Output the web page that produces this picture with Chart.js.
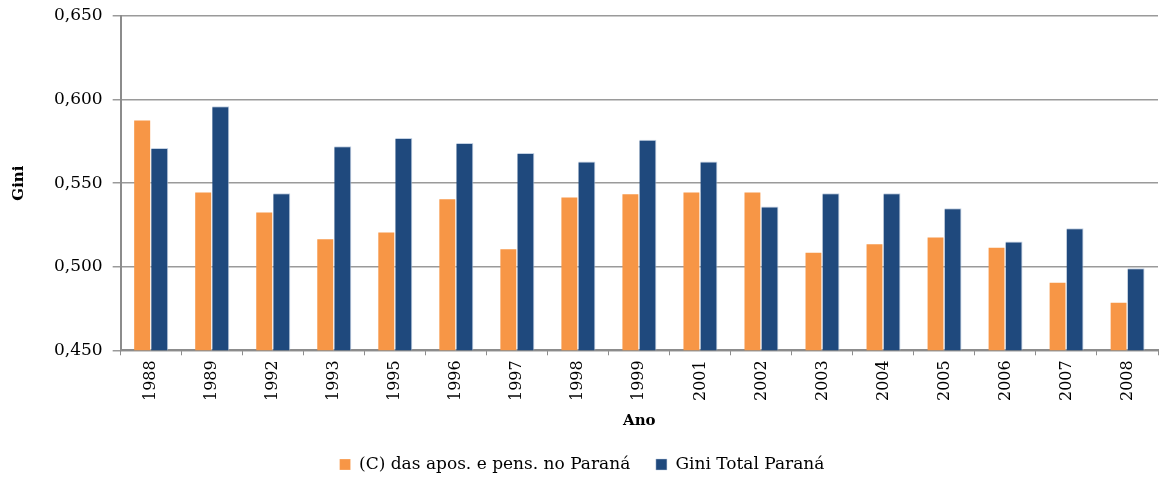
<!DOCTYPE html>
<html>
<head>
<meta charset="utf-8">
<script src="https://cdn.jsdelivr.net/npm/chart.js@4"></script>
<style>
  html, body { margin: 0; padding: 0; background: #fff; }
  #wrap { width: 1160px; height: 477px; position: relative; }
</style>
</head>
<body>
<div id="wrap"><canvas id="giniChart"></canvas></div>
<script>
// ══ DATA ═══════════════════════════════════════════════════════
const anos = ['1988', '1989', '1992', '1993', '1995', '1996', '1997', '1998', '1999',
  '2001', '2002', '2003', '2004', '2005', '2006', '2007', '2008'];
const aposPens = [0.588, 0.545, 0.533, 0.517, 0.521, 0.541, 0.511, 0.542, 0.544,
  0.545, 0.545, 0.509, 0.514, 0.518, 0.512, 0.491, 0.479];
const giniTotal = [0.571, 0.596, 0.544, 0.572, 0.577, 0.574, 0.568, 0.563, 0.576,
  0.563, 0.536, 0.544, 0.544, 0.535, 0.515, 0.523, 0.499];
const yMin = 0.45, yMax = 0.65, yStep = 0.05;

// ══ CHART ══════════════════════════════════════════════════════
const serif = 'DejaVu Serif';
const axisGrey = '#8c8c8c';

new Chart(document.getElementById('giniChart'), {
  type: 'bar',
  data: {
    labels: anos,
    datasets: [
      { label: '(C) das apos. e pens. no Paraná', data: aposPens, backgroundColor: '#F79646',
        borderColor: 'rgba(255,255,255,0.5)', borderWidth: { right: 1, top: 1 } },
      { label: 'Gini Total Paraná', data: giniTotal, backgroundColor: '#1F497D',
        borderColor: 'rgba(190,205,225,0.9)', borderWidth: { right: 1, top: 1 } },
    ]
  },
  options: {
    responsive: true, maintainAspectRatio: false, animation: false,
    datasets: { bar: { categoryPercentage: 0.56, barPercentage: 1.0 } },
    layout: { padding: { top: 0, right: 2, left: 6, bottom: -6 } },
    plugins: {
      tooltip: { enabled: false },
      legend: {
        position: 'bottom',
        labels: {
          color: '#000', font: { family: serif, size: 17 }, boxWidth: 11, boxHeight: 11, padding: 4,
          // extra gap after the first entry, like the original spreadsheet legend
          generateLabels: chart => Chart.defaults.plugins.legend.labels.generateLabels(chart)
            .map((l, i) => (i === 0 ? { ...l, text: l.text + '    ' } : l))
        }
      }
    },
    scales: {
      x: {
        grid: { display: true, drawOnChartArea: false, drawTicks: true, tickLength: 5, color: axisGrey, offset: true },
        border: { color: axisGrey, width: 2 },
        ticks: { color: '#000', font: { family: serif, size: 16 }, minRotation: 90, maxRotation: 90, padding: 5 },
        title: { display: true, text: 'Ano', color: '#000', font: { family: serif, size: 15, weight: 'bold' }, padding: { top: 6, bottom: 22 } }
      },
      y: {
        min: yMin, max: yMax,
        grid: { color: '#9a9a9a', lineWidth: 1.5, tickLength: 8 },
        border: { color: axisGrey, width: 2 },
        ticks: {
          stepSize: yStep, color: '#000', font: { family: serif, size: 17, lineHeight: 0.7 }, padding: 10,
          callback: v => v.toFixed(3).replace('.', ',')
        },
        title: { display: true, text: 'Gini', color: '#000', font: { family: serif, size: 15, weight: 'bold' }, padding: { bottom: 16 } }
      }
    }
  }
});
</script>
</body>
</html>
